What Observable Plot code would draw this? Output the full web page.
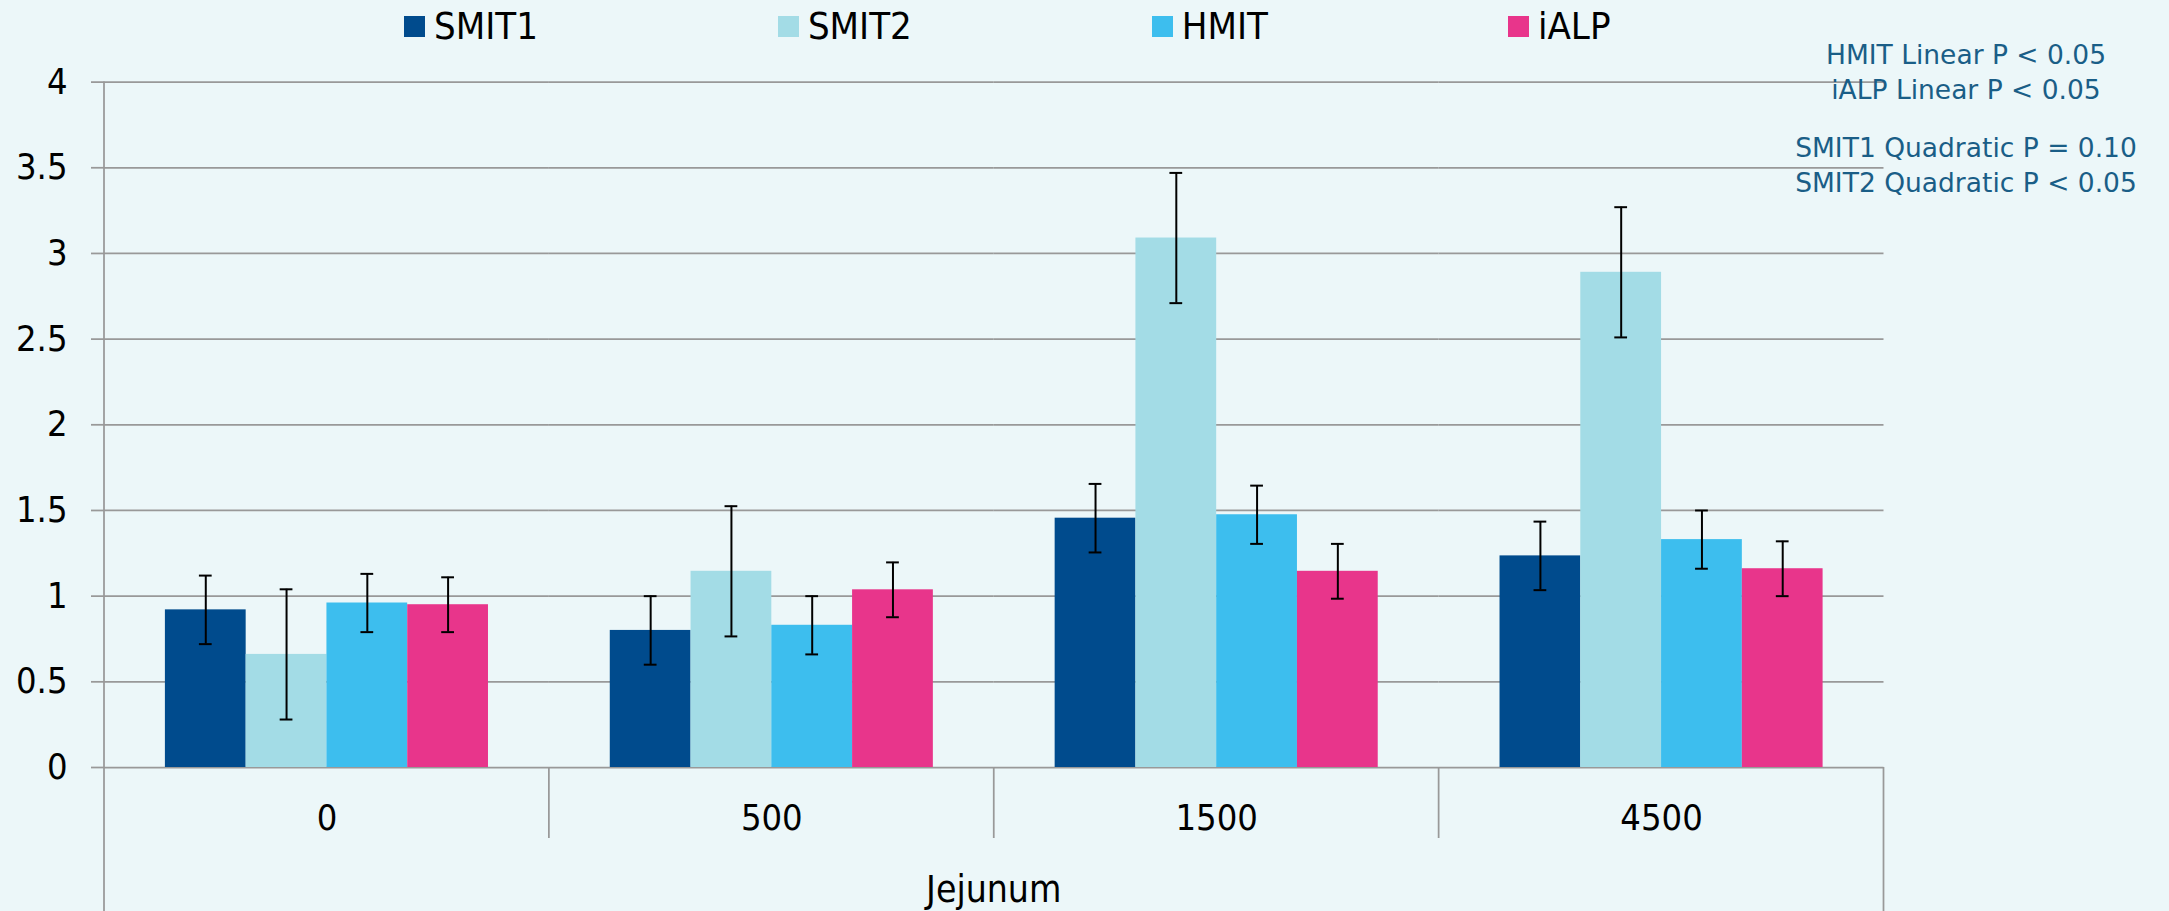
<!DOCTYPE html>
<html><head><meta charset="utf-8">
<script src="https://cdn.jsdelivr.net/npm/d3@7"></script>
<script src="https://cdn.jsdelivr.net/npm/@observablehq/plot@0.6"></script>
<style>
html,body{margin:0;padding:0;background:#ECF7F9;}
#wrap{position:relative;width:2169px;height:911px;overflow:hidden;background:#ECF7F9;}
#legend{position:absolute;left:404px;top:7px;display:flex;font-family:"DejaVu Sans Condensed","DejaVu Sans",sans-serif;font-stretch:condensed;font-size:38px;line-height:38px;color:#000;}
.item{display:flex;align-items:center;margin-right:240px;white-space:nowrap;}
.sw{width:21px;height:21px;margin-right:9px;}
.note{position:absolute;left:1766px;width:400px;text-align:center;font-family:"DejaVu Sans",sans-serif;font-size:26.5px;line-height:35px;color:#1a5e87;white-space:nowrap;}
#chart{position:absolute;left:0;top:0;}
</style>
</head><body>
<div id="wrap">
  <div id="chart"></div>
  <div id="legend"></div>
  <div class="note" id="note1" style="top:37px"></div>
  <div class="note" id="note2" style="top:130px"></div>
</div>
<script>
const doses = ["0", "500", "1500", "4500"];
const series = ["SMIT1", "SMIT2", "HMIT", "iALP"];
const colors = ["#004B8D", "#A3DCE6", "#3DBEEE", "#E8358B"];
const smit1 = [0.92, 0.80, 1.455, 1.235];
const smit1Err = [0.20, 0.20, 0.20, 0.20];
const smit2 = [0.66, 1.145, 3.09, 2.89];
const smit2Err = [0.38, 0.38, 0.38, 0.38];
const hmit = [0.96, 0.83, 1.475, 1.33];
const hmitErr = [0.17, 0.17, 0.17, 0.17];
const ialp = [0.95, 1.037, 1.145, 1.16];
const ialpErr = [0.16, 0.16, 0.16, 0.16];
const yTicks = [0, 0.5, 1, 1.5, 2, 2.5, 3, 3.5, 4];
const notesLinear = ["HMIT Linear P < 0.05", "iALP Linear P < 0.05"];
const notesQuad = ["SMIT1 Quadratic P = 0.10", "SMIT2 Quadratic P < 0.05"];
const xTitle = "Jejunum";

const values = [smit1, smit2, hmit, ialp];
const errs = [smit1Err, smit2Err, hmitErr, ialpErr];
const rows = [];
doses.forEach((d, i) => series.forEach((s, j) => {
  rows.push({dose: d, series: s, value: values[j][i], lo: values[j][i] - errs[j][i], hi: values[j][i] + errs[j][i]});
}));

const condensed = '"DejaVu Sans Condensed", "DejaVu Sans", sans-serif';
const gridColor = "#999999";

const plot = Plot.plot({
  width: 2169, height: 911,
  marginLeft: 104, marginRight: 285.5, marginTop: 81.6, marginBottom: 144,
  style: {background: "transparent", fontFamily: condensed, color: "#000", overflow: "visible"},
  fx: {domain: doses, padding: 0, round: false, label: null},
  x: {domain: series, paddingInner: 0, paddingOuter: 0.754, round: false, axis: null},
  y: {domain: [0, 4], label: null},
  color: {domain: series, range: colors},
  marks: [
    Plot.gridY(yTicks, {stroke: gridColor, strokeOpacity: 1, strokeWidth: 1.75}),
    Plot.axisY(yTicks, {tickSize: 13, tickPadding: 24, fontSize: 36, fontFamily: condensed, tickFormat: d => String(d), stroke: gridColor, strokeWidth: 1.75, fill: "#000", label: null}),
    Plot.axisFx({anchor: "bottom", tickSize: 0, tickPadding: 37, fontSize: 36, fontFamily: condensed, fill: "#000", label: null}),
    Plot.barY(rows, {fx: "dose", x: "series", y: "value", fill: "series"}),
    Plot.ruleX(rows, {fx: "dose", x: "series", y1: "lo", y2: "hi", stroke: "#000", strokeWidth: 2}),
    Plot.tickY(rows, {fx: "dose", x: "series", y: "hi", insetLeft: 34, insetRight: 34, stroke: "#000", strokeWidth: 2}),
    Plot.tickY(rows, {fx: "dose", x: "series", y: "lo", insetLeft: 34, insetRight: 34, stroke: "#000", strokeWidth: 2})
  ]
});
document.getElementById("chart").appendChild(plot);

// category separators and axis lines, from the Plot scales
const fxs = plot.scale("fx");
const ys = plot.scale("y");
const svg = d3.select(plot.tagName.toLowerCase() === "svg" ? plot : plot.querySelector("svg"));
const y0 = ys.apply(0), yTop = ys.apply(4);
const bw = fxs.bandwidth;
const g = svg.append("g").attr("stroke", gridColor).attr("stroke-width", 1.75);
const leftX = fxs.apply(doses[0]);
const rightX = fxs.apply(doses[doses.length - 1]) + bw;
g.append("line").attr("x1", leftX).attr("x2", leftX).attr("y1", yTop).attr("y2", 911);
g.append("line").attr("x1", rightX).attr("x2", rightX).attr("y1", y0).attr("y2", 911);
doses.slice(1).forEach(d => {
  const x = fxs.apply(d);
  g.append("line").attr("x1", x).attr("x2", x).attr("y1", y0).attr("y2", y0 + 71);
});
svg.append("text").attr("x", (leftX + rightX) / 2).attr("y", 902)
  .attr("text-anchor", "middle").attr("font-family", condensed).attr("font-size", 37)
  .attr("fill", "#000").text(xTitle);

// legend
const legend = document.getElementById("legend");
series.forEach((s, i) => {
  const it = document.createElement("div"); it.className = "item";
  const sw = document.createElement("div"); sw.className = "sw"; sw.style.background = colors[i];
  const t = document.createElement("span"); t.textContent = s;
  it.appendChild(sw); it.appendChild(t); legend.appendChild(it);
});
document.getElementById("note1").innerHTML = notesLinear.map(t => `<div>${t}</div>`).join("");
document.getElementById("note2").innerHTML = notesQuad.map(t => `<div>${t}</div>`).join("");
</script>
</body></html>
